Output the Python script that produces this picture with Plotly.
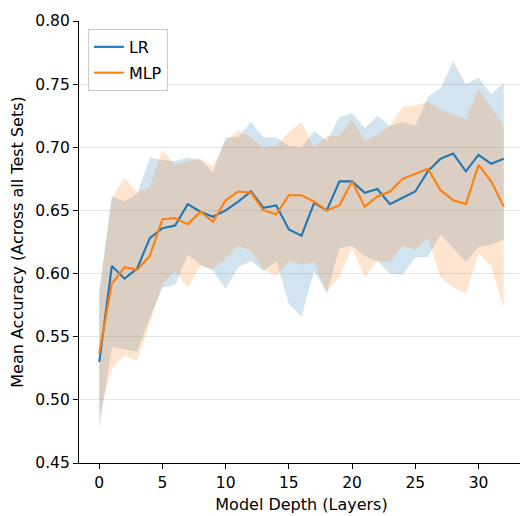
import plotly.graph_objects as go

depth = list(range(33))

lr_mean = [0.530, 0.606, 0.596, 0.604, 0.628, 0.636, 0.638, 0.655, 0.649, 0.645,
           0.650, 0.657, 0.665, 0.652, 0.654, 0.635, 0.630, 0.656, 0.650, 0.673,
           0.673, 0.664, 0.667, 0.655, 0.660, 0.665, 0.681, 0.691, 0.695, 0.681,
           0.694, 0.687, 0.691]
lr_upper = [0.586, 0.661, 0.657, 0.663, 0.692, 0.690, 0.689, 0.692, 0.690, 0.680,
            0.708, 0.708, 0.720, 0.708, 0.708, 0.701, 0.700, 0.713, 0.705, 0.724,
            0.727, 0.715, 0.725, 0.717, 0.720, 0.717, 0.740, 0.747, 0.768, 0.750,
            0.755, 0.742, 0.751]
lr_lower = [0.477, 0.542, 0.540, 0.538, 0.565, 0.589, 0.591, 0.615, 0.607, 0.602,
            0.588, 0.605, 0.610, 0.602, 0.610, 0.576, 0.566, 0.602, 0.585, 0.620,
            0.622, 0.614, 0.610, 0.600, 0.599, 0.613, 0.613, 0.631, 0.620, 0.609,
            0.621, 0.623, 0.627]

mlp_mean = [0.537, 0.592, 0.605, 0.603, 0.614, 0.643, 0.644, 0.639, 0.649, 0.641,
            0.658, 0.665, 0.664, 0.650, 0.647, 0.662, 0.662, 0.657, 0.650, 0.654,
            0.673, 0.653, 0.661, 0.665, 0.675, 0.679, 0.683, 0.666, 0.658, 0.655,
            0.686, 0.673, 0.653]
mlp_upper = [0.584, 0.660, 0.676, 0.664, 0.669, 0.698, 0.686, 0.689, 0.691, 0.685,
             0.705, 0.713, 0.708, 0.700, 0.701, 0.712, 0.720, 0.700, 0.709, 0.709,
             0.722, 0.705, 0.710, 0.717, 0.732, 0.733, 0.736, 0.730, 0.726, 0.722,
             0.746, 0.731, 0.717]
mlp_lower = [0.489, 0.525, 0.535, 0.531, 0.560, 0.592, 0.602, 0.589, 0.606, 0.604,
             0.612, 0.622, 0.618, 0.603, 0.598, 0.610, 0.607, 0.609, 0.585, 0.598,
             0.620, 0.597, 0.610, 0.609, 0.622, 0.619, 0.628, 0.597, 0.589, 0.584,
             0.616, 0.606, 0.573]

y_ticks = [0.45, 0.50, 0.55, 0.60, 0.65, 0.70, 0.75, 0.80]
x_ticks = [0, 5, 10, 15, 20, 25, 30]

BLUE = "#1f77b4"
ORANGE = "#ff7f0e"
FONT = "DejaVu Sans"

fig = go.Figure()

# bands
fig.add_trace(go.Scatter(x=depth, y=lr_upper, mode="lines", line=dict(width=0, color=BLUE),
                         showlegend=False, hoverinfo="skip"))
fig.add_trace(go.Scatter(x=depth, y=lr_lower, mode="lines", line=dict(width=0, color=BLUE),
                         fill="tonexty", fillcolor="rgba(31,119,180,0.2)",
                         showlegend=False, hoverinfo="skip"))
fig.add_trace(go.Scatter(x=depth, y=mlp_upper, mode="lines", line=dict(width=0, color=ORANGE),
                         showlegend=False, hoverinfo="skip"))
fig.add_trace(go.Scatter(x=depth, y=mlp_lower, mode="lines", line=dict(width=0, color=ORANGE),
                         fill="tonexty", fillcolor="rgba(255,127,14,0.2)",
                         showlegend=False, hoverinfo="skip"))

# lines
fig.add_trace(go.Scatter(x=depth, y=lr_mean, mode="lines", name="LR",
                         line=dict(color=BLUE, width=2.1), legendgroup="a"))
fig.add_trace(go.Scatter(x=depth, y=mlp_mean, mode="lines", name="MLP",
                         line=dict(color=ORANGE, width=2.1), legendgroup="b"))

# page body has an 8px default margin, so the figure is 8px smaller and margins shifted
fig.update_layout(
    width=520, height=508,
    margin=dict(l=71, r=4, t=8, b=53),
    paper_bgcolor="white", plot_bgcolor="white",
    font=dict(family=FONT, size=16, color="black"),
    legend=dict(x=0.02, y=0.982, xanchor="left", yanchor="top",
                bgcolor="rgba(255,255,255,0.8)", bordercolor="#cccccc", borderwidth=1,
                font=dict(size=16), tracegroupgap=2),
    xaxis=dict(range=[-1.6, 33.6], tickmode="array", tickvals=x_ticks,
               ticks="outside", ticklen=5, tickwidth=1, tickcolor="black",
               tickfont=dict(size=15.5), ticklabeloverflow="allow",
               showline=True, linecolor="black", linewidth=1.1, mirror=False,
               showgrid=False, zeroline=False,
               title=dict(text="Model Depth (Layers)", font=dict(size=16), standoff=8)),
    yaxis=dict(range=[0.45, 0.80], tickmode="array", tickvals=y_ticks,
               tickformat=".2f", tickfont=dict(size=15.5), ticklabeloverflow="allow",
               ticks="outside", ticklen=5, tickwidth=1, tickcolor="black",
               showline=True, linecolor="black", linewidth=1.1, mirror=False,
               showgrid=True, gridcolor="rgba(0,0,0,0.1)", gridwidth=1, zeroline=False,
               title=dict(text="Mean Accuracy (Across all Test Sets)", font=dict(size=16), standoff=9)),
)

fig.write_html("out.html")
